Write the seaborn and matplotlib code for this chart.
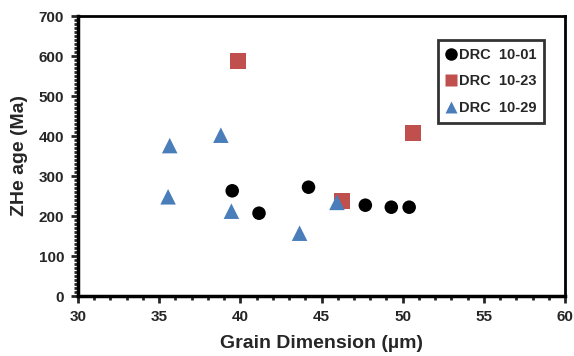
import matplotlib
matplotlib.use("Agg")
import matplotlib.pyplot as plt
from matplotlib.ticker import MultipleLocator
import seaborn as sns
import pandas as pd

sns.set_style("white")
plt.rcParams["font.family"] = ["Liberation Sans", "DejaVu Sans"]
plt.rcParams["font.weight"] = "bold"

# Grain dimension (µm) and ZHe age (Ma) per sample
drc1001_x = [39.5, 41.15, 44.2, 47.7, 49.3, 50.4]
drc1001_y = [263, 207, 272, 227, 222, 222]
drc1023_x = [39.85, 46.25, 50.65]
drc1023_y = [587, 238, 408]
drc1029_x = [35.65, 38.8, 35.55, 39.45, 43.65, 45.95]
drc1029_y = [376, 402, 248, 212, 157, 234]

samples = ["DRC  10-01", "DRC  10-23", "DRC  10-29"]

df = pd.concat([
    pd.DataFrame({"x": drc1001_x, "y": drc1001_y, "sample": samples[0]}),
    pd.DataFrame({"x": drc1023_x, "y": drc1023_y, "sample": samples[1]}),
    pd.DataFrame({"x": drc1029_x, "y": drc1029_y, "sample": samples[2]}),
])

palette = {samples[0]: "#000000", samples[1]: "#c0504d", samples[2]: "#4a7ebb"}
markers = {samples[0]: "o", samples[1]: "s", samples[2]: "^"}
sizes = {samples[0]: 95, samples[1]: 130, samples[2]: 125}

fig = plt.figure(figsize=(5.74, 3.56), dpi=100)
ax = fig.add_axes([78 / 574, 60 / 356, 487 / 574, 280 / 356])

for s in samples:
    sns.scatterplot(data=df[df["sample"] == s], x="x", y="y",
                    color=palette[s], marker=markers[s], s=sizes[s],
                    edgecolor="none", ax=ax, legend=False)

ax.set_xlim(30, 60)
ax.set_ylim(0, 700)
ax.xaxis.set_major_locator(MultipleLocator(5))
ax.xaxis.set_minor_locator(MultipleLocator(1))
ax.yaxis.set_major_locator(MultipleLocator(100))
ax.yaxis.set_minor_locator(MultipleLocator(10))
ax.tick_params(which="major", direction="out", length=5, width=2,
               labelsize=11, pad=5, bottom=True, left=True)
ax.tick_params(which="minor", direction="out", length=3, width=2,
               bottom=True, left=True)
for lbl in ax.get_xticklabels() + ax.get_yticklabels():
    lbl.set_fontweight("bold")

for side in ["left", "bottom"]:
    ax.spines[side].set_linewidth(2.5)
    ax.spines[side].set_color("black")
for side in ["top", "right"]:
    ax.spines[side].set_linewidth(2)
    ax.spines[side].set_color("black")

ax.set_xlabel("Grain Dimension (µm)", fontsize=14, fontweight="bold", labelpad=8)
ax.set_ylabel("ZHe age (Ma)", fontsize=14, fontweight="bold", labelpad=8)

handles = [plt.Line2D([], [], linestyle="none", marker=markers[s],
                      markersize=9, color=palette[s], markeredgecolor="none")
           for s in samples]
leg = ax.legend(handles, samples, loc="upper right",
                bbox_to_anchor=(0.957, 0.914), frameon=True, fancybox=False,
                handlelength=0.6, handletextpad=0.25, borderpad=0.55,
                borderaxespad=0, labelspacing=0.85,
                prop={"size": 10.5, "weight": "bold"})
leg.get_frame().set_edgecolor("black")
leg.get_frame().set_linewidth(2)

fig.savefig("out.png", dpi=100)
